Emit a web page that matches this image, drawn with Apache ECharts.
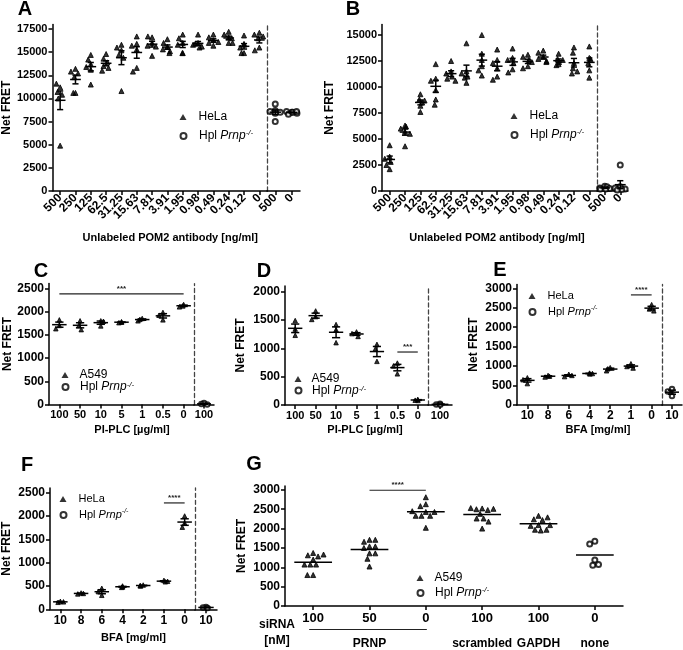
<!DOCTYPE html>
<html><head><meta charset="utf-8">
<script src="https://cdn.jsdelivr.net/npm/echarts@6/dist/echarts.min.js"></script>
<style>html,body{margin:0;padding:0;background:#fff}#c{width:683px;height:650px}</style>
</head><body><div id="c"></div>
<script>
// ---------------- data ----------------
const doseAB = ['500','250','125','62.5','31.25','15.63','7.81','3.91','1.95','0.98','0.49','0.24','0.12','0'];
const ctrlAB = ['500','0'];
const helaA = [
 [11200,11600,10700,10400,10000,4900],
 [13200,12900,12700,12300,10600,10600],
 [14700,14200,13700,13400,13100,11500],
 [14800,14300,13900,13500,13300,13000],
 [15800,15500,15200,14700,14400,10800],
 [16700,15900,15700,15300,13300,12900],
 [16600,16700,16000,15700,15600,14600],
 [16400,16000,15600,15300,15100,14900],
 [16900,16500,16000,15800,14900,14900],
 [16900,16000,15900,15800,15600,15500],
 [16900,16600,16300,16100,16000,15700],
 [17200,16900,16600,16500,16000,16000],
 [16800,15900,15800,15500,14900,14900],
 [17100,16900,16700,16500,15500,15200]];
const hplA = [[9400,8700,8600,8500,8400,7500],[8500,8600,8400,8300,8500,8600]];
const helaB = [
 [4400,3300,3100,2800,2500,2100],
 [6300,6200,6000,5700,5500,4300],
 [9300,8800,8700,8500,8200,7600],
 [12200,10800,10600,9700,8800,8300],
 [12500,11500,11300,11000,10800,10600],
 [14200,11500,11300,11000,10900,10400],
 [15000,13200,12600,12000,11600,11100],
 [13600,12600,12300,11800,11000,10700],
 [13700,12800,12600,12300,11700,11400],
 [13100,12900,12600,12400,12000,11800],
 [13500,13300,12900,12700,12500,12400],
 [13200,12700,12600,12400,12200,12100],
 [13800,13300,12300,11800,11500,11300],
 [13900,12800,12700,12300,11600,10900]];
const hplB = [[450,400,300,250,200,200],[2500,400,300,200,150,100]];

const plcDoses = ['100','50','10','5','1','0.5','0'];
const ctrlCD = ['100'];
const a549C = [[1820,1700,1630],[1800,1700,1610],[1800,1790,1690],[1780,1770,1760],[1850,1830,1800],[1980,1920,1820],[2150,2120,2100]];
const hplC = [[30,10,0]];
const a549D = [[1490,1340,1230],[1660,1560,1510],[1420,1330,1100],[1290,1260,1210],[1070,990,770],[740,690,550],[100,85,80]];
const hplD = [[20,10,5]];

const bfaDoses = ['10','8','6','4','2','1','0'];
const ctrlEF = ['10'];
const helaE = [[700,650,550],[760,740,720],[790,760,730],[820,810,800],[960,930,880],[1060,990,950],[2580,2470,2420]];
const hplE = [[410,350,230]];
const helaF = [[170,160,150],[350,340,330],[450,380,300],[500,480,470],[520,510,500],[620,600,590],[2000,1850,1760]];
const hplF = [[50,40,30]];

const siRNAConc = ['100','50','0','100','100','0'];
const siRNAGroup = ['', 'PRNP', '', 'scrambled', 'GAPDH', 'none'];
const a549G = [
 [1370,1310,1200,1280,1330,1070,1070,1070,800,800],
 [1710,1660,1710,1540,1540,1500,1360,1360,1220,1020],
 [2810,2630,2580,2430,2330,2330,2330,2430,2450,2020],
 [2520,2500,2480,2510,2530,2380,2260,2260,2180,2000],
 [2330,2240,2220,2290,2090,1970,1950,1970,2070,2090]];
const hplG = [[1670,1600,1190,1050,1070]];

const ticksA = [0,2500,5000,7500,10000,12500,15000,17500];
const ticksB = [0,2500,5000,7500,10000,12500,15000];
const ticksC = [0,500,1000,1500,2000,2500];
const ticksD = [0,500,1000,1500,2000];
const ticksE = [0,500,1000,1500,2000,2500,3000];

// significance bars: [fromCategory, toCategory, value]
const sigC = [[0,6,2380]], sigD = [[5,6,935]], sigE = [[5,6,2830]], sigF = [[5,6,2280]], sigG = [[1,2,2990]];
const sigTextC = ['***'], sigTextD = ['***'], sigTextE = ['****'], sigTextF = ['****'], sigTextG = ['****'];
const prnpSpan = [[0,2]];

// ---------------- helpers ----------------
const FONT = 'Liberation Sans, Arial, sans-serif';
const K = '#000';
const HPL = 'Hpl Prnp-/-';
const grids=[], xAxes=[], yAxes=[], series=[], legends=[], graphics=[];

function toPoints(groups, off){ off=off||0; const out=[]; groups.forEach((vals,i)=>vals.forEach(v=>out.push([i+off,v]))); return out; }
function stats(groups, off){ off=off||0; return groups.map((vals,i)=>{
  const n=vals.length, m=vals.reduce((a,b)=>a+b,0)/n;
  const sd=Math.sqrt(vals.reduce((a,b)=>a+(b-m)*(b-m),0)/(n-1));
  return [i+off, m, sd/Math.sqrt(n)];
});}

function yLeft(g,max,ticks,fs,gap){ return {gridIndex:g,type:'value',min:0,max:max,
  axisLine:{show:true,lineStyle:{color:K,width:1.5}},
  axisTick:{show:true,length:4,customValues:ticks,lineStyle:{color:K,width:1.5}},
  axisLabel:{customValues:ticks,margin:5,color:K,fontSize:fs,fontWeight:'bold',fontFamily:FONT,formatter:v=>String(v)},
  splitLine:{show:false},
  name:'Net FRET',nameLocation:'middle',nameGap:gap,
  nameTextStyle:{color:K,fontSize:12,fontWeight:'bold',fontFamily:FONT}}; }
function yDash(g,max){ return {gridIndex:g,type:'value',min:0,max:max,
  axisLine:{show:true,lineStyle:{color:'#444',width:1.3,type:[4,3]}},
  axisTick:{show:false},axisLabel:{show:false},splitLine:{show:false}}; }
function xCat(g,cats,o){ const ax={gridIndex:g,type:'category',data:cats,boundaryGap:true,
  axisLine:{show:true,onZero:false,lineStyle:{color:K,width:1.5}},
  axisTick:{show:true,alignWithLabel:true,length:4,lineStyle:{color:K,width:1.5}},
  axisLabel:{interval:0,rotate:o.rotate||0,margin:o.margin||5,color:K,fontSize:o.fs,fontWeight:'bold',fontFamily:FONT},
  splitLine:{show:false},
  jitter:o.jitter||0,jitterOverlap:false,jitterMargin:o.jm||0.3};
  if(o.name){ ax.name=o.name; ax.nameLocation='middle'; ax.nameGap=o.nameGap;
    ax.nameTextStyle={color:K,fontSize:11,fontWeight:'bold',fontFamily:FONT,padding:o.pad}; }
  return ax; }

function scatter(name,sym,size,xi,yi,data){ return {type:'scatter',name:name,xAxisIndex:xi,yAxisIndex:yi,data:data,
  symbol:sym,symbolSize:size,itemStyle:{color:K,borderColor:K},silent:true,z:3,
  emphasis:{disabled:true}}; }

function meanSem(xi,yi,data,meanFrac,capFrac,showErr){ return {type:'custom',xAxisIndex:xi,yAxisIndex:yi,data:data,silent:true,z:4,
  renderItem:function(params,api){
    const x=api.value(0), m=api.value(1), s=api.value(2);
    const c=api.coord([x,m]); const bw=api.size([1,0])[0];
    const hw=bw*meanFrac/2, cw=bw*capFrac/2;
    const st={stroke:K,lineWidth:1.5};
    const ch=[{type:'line',shape:{x1:c[0]-hw,y1:c[1],x2:c[0]+hw,y2:c[1]},style:st}];
    if(showErr){ const t=api.coord([x,m+s]), b=api.coord([x,m-s]);
      ch.push({type:'line',shape:{x1:c[0],y1:t[1],x2:c[0],y2:b[1]},style:st});
      ch.push({type:'line',shape:{x1:c[0]-cw,y1:t[1],x2:c[0]+cw,y2:t[1]},style:st});
      ch.push({type:'line',shape:{x1:c[0]-cw,y1:b[1],x2:c[0]+cw,y2:b[1]},style:st}); }
    return {type:'group',children:ch};
  }}; }

function sigSeries(xi,yi,data,texts){ return {type:'custom',xAxisIndex:xi,yAxisIndex:yi,data:data,silent:true,z:4,
  encode:{x:0,y:2},
  renderItem:function(params,api){
    const a=api.coord([api.value(0),api.value(2)]), b=api.coord([api.value(1),api.value(2)]);
    return {type:'group',children:[
      {type:'line',shape:{x1:a[0],y1:a[1],x2:b[0],y2:b[1]},style:{stroke:'#222',lineWidth:1.2}},
      {type:'text',x:(a[0]+b[0])/2,y:a[1]-1,style:{text:texts[params.dataIndex],fill:'#222',font:'bold 8px '+FONT,align:'center',verticalAlign:'bottom'}}]};
  }}; }

function legendFmt(name){ return name===HPL ? '{n|Hpl }{i|Prnp}{s|-/-}' : '{n|'+name+'}'; }
// one legend per item so each row sits exactly where the reference has it
function addLegend(l,names){ names.forEach((nm,k)=>legends.push({left:l.x-3.5,top:l.y[k]-l.lh/2,padding:0,orient:'vertical',itemWidth:7,itemHeight:6,
  selectedMode:false,data:[nm],formatter:legendFmt,
  textStyle:{color:K,fontFamily:FONT,fontSize:l.fs,lineHeight:l.lh,padding:[0,0,0,l.tg||5],
    rich:{n:{fontSize:l.fs,fontFamily:FONT,color:K,lineHeight:l.lh},
          i:{fontSize:l.fs,fontFamily:FONT,color:K,fontStyle:'italic',lineHeight:l.lh},
          s:{fontSize:l.fs-4,fontFamily:FONT,color:K,fontStyle:'italic',verticalAlign:'top',lineHeight:l.fs-4}}}})); }

function panel(p){
  const gL=grids.push({left:p.L[0],top:p.top,width:p.L[1],height:p.h})-1;
  const gR=grids.push({left:p.R[0],top:p.top,width:p.R[1],height:p.h})-1;
  const xL=xAxes.push(xCat(gL,p.cats,{fs:p.xfs,rotate:p.rotate,margin:p.xm,jitter:p.jitter,name:p.xName,nameGap:p.xGap,pad:p.xPad}))-1;
  const xR=xAxes.push(xCat(gR,p.ctrl,{fs:p.xfs,rotate:p.rotate,margin:p.xm,jitter:p.jitter}))-1;
  const yL=yAxes.push(yLeft(gL,p.max,p.ticks,p.yfs,p.yGap))-1;
  const yR=yAxes.push(yDash(gR,p.max))-1;
  series.push(scatter(p.mainName,'triangle',p.sym,xL,yL,toPoints(p.main)));
  series.push(meanSem(xL,yL,stats(p.main),0.7,0.4,true));
  series.push(scatter(HPL,'emptyCircle',p.sym,xR,yR,toPoints(p.ctrlData)));
  series.push(meanSem(xR,yR,stats(p.ctrlData),0.7,0.4,true));
  if(p.sig) series.push(sigSeries(xL,yL,p.sig,p.sigText));
  addLegend(p.legend,[p.mainName,HPL]);
}

panel({L:[52,215],R:[267,33],top:24.4,h:166.6,cats:doseAB,ctrl:ctrlAB,main:helaA,ctrlData:hplA,mainName:'HeLa',
  max:18000,ticks:ticksA,yfs:11,xfs:12,rotate:45,xm:5,yGap:39,xName:'Unlabeled POM2 antibody [ng/ml]',xGap:41,xPad:[0,0,0,21],
  jitter:12,sym:5,legend:{x:183,y:[117,136],lh:14,fs:12,tg:7}});
panel({L:[382,215],R:[597,31],top:24.6,h:166.4,cats:doseAB,ctrl:ctrlAB,main:helaB,ctrlData:hplB,mainName:'HeLa',
  max:16000,ticks:ticksB,yfs:11,xfs:12,rotate:45,xm:5,yGap:46,xName:'Unlabeled POM2 antibody [ng/ml]',xGap:41,xPad:[0,0,0,15],
  jitter:12,sym:5,legend:{x:514,y:[116,135],lh:14,fs:12,tg:7}});
panel({L:[49,145],R:[194,20],top:283.6,h:120.9,cats:plcDoses,ctrl:ctrlCD,main:a549C,ctrlData:hplC,mainName:'A549',
  max:2600,ticks:ticksC,yfs:12,xfs:11,xm:5,yGap:35,xName:'PI-PLC [µg/ml]',xGap:19.5,xPad:[0,0,0,21],
  jitter:9,sym:4.5,sig:sigC,sigText:sigTextC,legend:{x:65,y:[375,387],lh:12,fs:12,tg:6}});
panel({L:[285,143],R:[428,24],top:286,h:119,cats:plcDoses,ctrl:ctrlCD,main:a549D,ctrlData:hplD,mainName:'A549',
  max:2100,ticks:ticksD,yfs:12,xfs:11,xm:5,yGap:38,xName:'PI-PLC [µg/ml]',xGap:19,xPad:[0,0,0,17],
  jitter:9,sym:4.5,sig:sigD,sigText:sigTextD,legend:{x:298,y:[379,390.5],lh:12,fs:12,tg:5}});
panel({L:[517,145],R:[662,20],top:284.4,h:120.6,cats:bfaDoses,ctrl:ctrlEF,main:helaE,ctrlData:hplE,mainName:'HeLa',
  max:3100,ticks:ticksE,yfs:12,xfs:12,xm:5,yGap:37,xName:'BFA [mg/ml]',xGap:19,xPad:[0,0,0,17],
  jitter:9,sym:4.5,sig:sigE,sigText:sigTextE,legend:{x:532,y:[296,312],lh:14,fs:11,tg:7}});
panel({L:[49,146],R:[195,22],top:488,h:121.3,cats:bfaDoses,ctrl:ctrlEF,main:helaF,ctrlData:hplF,mainName:'HeLa',
  max:2600,ticks:ticksC,yfs:12,xfs:12,xm:5,yGap:37,xName:'BFA [mg/ml]',xGap:22.7,xPad:[0,0,0,22],
  jitter:9,sym:4.5,sig:sigF,sigText:sigTextF,legend:{x:63,y:[499,515],lh:14,fs:11,tg:7}});

// panel G
(function(){
  const g=grids.push({left:285,top:486,width:338,height:121.7})-1;
  const xi=xAxes.push(xCat(g,siRNAConc,{fs:13,margin:6,jitter:30,jm:0.8}))-1;
  const x2={gridIndex:g,type:'category',data:siRNAGroup,boundaryGap:true,position:'bottom',offset:25,
    axisLine:{show:false},axisTick:{show:false},splitLine:{show:false},
    axisLabel:{interval:0,margin:7,color:K,fontSize:12,fontWeight:'bold',fontFamily:FONT}};
  xAxes.push(x2);
  const yi=yAxes.push(yLeft(g,3100,ticksE,12,37))-1;
  const allG=a549G.concat(hplG);
  series.push(scatter('A549','triangle',5,xi,yi,toPoints(a549G)));
  series.push(scatter(HPL,'emptyCircle',5,xi,yi,toPoints(hplG,a549G.length)));
  series.push(meanSem(xi,yi,stats(allG),0.67,0,false));
  series.push(sigSeries(xi,yi,sigG,sigTextG));
  series.push({type:'custom',xAxisIndex:xi,yAxisIndex:yi,data:prnpSpan,silent:true,encode:{x:0},
    renderItem:function(params,api){
      const a=api.coord([api.value(0),0]), b=api.coord([api.value(1),0]);
      return {type:'line',shape:{x1:a[0]-4,y1:a[1]+23.5,x2:b[0]+1,y2:b[1]+23.5},style:{stroke:'#222',lineWidth:1.2}};
    }});
  addLegend({x:420,y:[578,593],lh:14,fs:12,tg:6},['A549',HPL]);
})();

const letters=[['A',25,9],['B',353,9],['C',41,271],['D',264,271],['E',500,270],['F',27,465],['G',254,464]];
letters.forEach(l=>graphics.push({type:'text',x:l[1],y:l[2],silent:true,
  style:{text:l[0],fill:K,font:'bold 20px '+FONT,align:'center',verticalAlign:'middle'}}));
graphics.push({type:'text',x:277,y:625,silent:true,style:{text:'siRNA',fill:K,font:'bold 12px '+FONT,align:'center',verticalAlign:'middle'}});
graphics.push({type:'text',x:277,y:641,silent:true,style:{text:'[nM]',fill:K,font:'bold 12px '+FONT,align:'center',verticalAlign:'middle'}});

const chart=echarts.init(document.getElementById('c'),null,{renderer:'canvas'});
chart.setOption({animation:false,backgroundColor:'#fff',grid:grids,xAxis:xAxes,yAxis:yAxes,series:series,legend:legends,graphic:graphics});
</script></body></html>
